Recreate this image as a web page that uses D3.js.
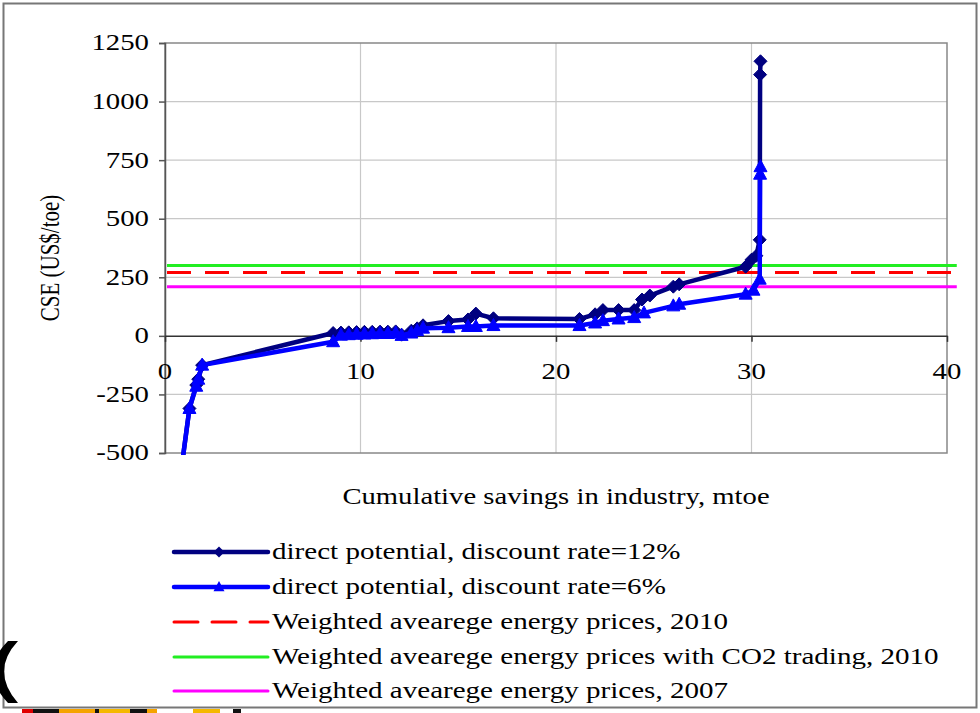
<!DOCTYPE html>
<html>
<head>
<meta charset="utf-8">
<script src="https://cdn.jsdelivr.net/npm/d3@7"></script>
<style>
html,body{margin:0;padding:0;background:#fff;}
svg{display:block;}
text{font-family:'Liberation Serif','Times New Roman',serif;fill:#000;}
</style>
</head>
<body>
<svg id="chart" width="980" height="713"></svg>
<script>
// ---------------- data ----------------
const xTicks = [0, 10, 20, 30, 40];
const yTicks = [-500, -250, 0, 250, 500, 750, 1000, 1250];

// direct potential, discount rate = 12%  [cumulative savings (mtoe), CSE (US$/toe)]
const series12 = [
  [0.85,-560],[1.25,-310],[1.6,-210],[1.7,-185],[1.9,-125],
  [8.6,12],[9.0,14],[9.4,15],[9.8,16],[10.2,17],[10.6,17],[11.0,18],[11.4,18],[11.8,19],
  [12.1,5],[12.6,22],[12.9,32],[13.2,45],[14.5,63],[15.5,70],[15.9,95],[16.8,75],
  [21.2,72],[22.0,92],[22.4,110],[23.2,110],[24.0,110],[24.4,155],[24.8,172],
  [26.0,210],[26.3,220],[29.7,295],[30.0,325],[30.25,342],[30.42,410],[30.44,1115],[30.46,1172]
];
// direct potential, discount rate = 6%
const series6 = [
  [0.85,-560],[1.25,-310],[1.6,-215],[1.7,-185],[1.9,-125],
  [8.6,-25],[9.0,3],[9.4,5],[9.8,7],[10.2,8],[10.6,9],[11.0,10],[11.4,10],[11.8,12],
  [12.1,2],[12.6,12],[12.9,22],[13.2,33],[14.5,35],[15.5,40],[15.9,40],[16.8,44],
  [21.2,44],[22.0,55],[22.4,65],[23.2,72],[24.0,78],[24.5,98],
  [26.0,128],[26.3,135],[29.7,178],[30.1,195],[30.42,242],[30.44,690],[30.46,722]
];

// reference price lines (x extent and level)
const refX = [0, 40.5];
const price2010 = 270;
const price2010CO2 = 300;
const price2007 = 210;

const legendLabels = [
  "direct potential, discount rate=12%",
  "direct potential, discount rate=6%",
  "Weighted avearege energy prices, 2010",
  "Weighted avearege energy prices with CO2 trading, 2010",
  "Weighted avearege energy prices, 2007"
];

// ---------------- drawing ----------------
const svg = d3.select("#chart");
const SX = 1.28; // horizontal stretch of the original slide image

const x = d3.scaleLinear().domain([0, 40]).range([165, 947]);
const y = d3.scaleLinear().domain([-500, 1250]).range([453, 43]);

function stext(parent, px, py, str, size, anchor, rotate) {
  const g = parent.append("g")
    .attr("transform", `translate(${px},${py}) scale(${SX},1)` + (rotate ? ` rotate(${rotate})` : ""));
  return g.append("text")
    .attr("text-anchor", anchor)
    .attr("dominant-baseline", "central")
    .style("font-size", size + "px")
    .text(str);
}

// outer frame
svg.append("rect").attr("x", 3.5).attr("y", 3.5).attr("width", 973).attr("height", 704)
  .attr("fill", "#fff").attr("stroke", "#777").attr("stroke-width", 2);

// plot area
const [x0, x1] = x.range();
const [yb, yt] = y.range();
svg.append("rect").attr("x", x0).attr("y", yt).attr("width", x1 - x0).attr("height", yb - yt)
  .attr("fill", "#fff");

// gridlines
svg.append("g").selectAll("line").data(yTicks.filter(v => v !== 0 && v !== -500 && v !== 1250))
  .join("line")
  .attr("x1", x0).attr("x2", x1).attr("y1", d => y(d)).attr("y2", d => y(d))
  .attr("stroke", "#c8c8c8").attr("stroke-width", 1.2);
svg.append("g").selectAll("line").data(xTicks.filter(v => v > 0 && v < 40))
  .join("line")
  .attr("x1", d => x(d)).attr("x2", d => x(d)).attr("y1", yt).attr("y2", yb)
  .attr("stroke", "#c8c8c8").attr("stroke-width", 1.2);

// plot border
svg.append("rect").attr("x", x0).attr("y", yt).attr("width", x1 - x0).attr("height", yb - yt)
  .attr("fill", "none").attr("stroke", "#888").attr("stroke-width", 1.5);

// y axis
const yAxis = d3.axisLeft(y).tickValues(yTicks).tickSize(6).tickFormat("");
const gy = svg.append("g").attr("transform", `translate(${x0},0)`).call(yAxis);
gy.selectAll("path,line").attr("stroke", "#555").attr("stroke-width", 1.5);
yTicks.forEach(v => stext(svg, 149, y(v), String(v), 22.5, "end"));

// x axis at y=0
const xAxis = d3.axisBottom(x).tickValues(xTicks).tickSize(6).tickSizeOuter(0).tickFormat("");
const gx = svg.append("g").attr("transform", `translate(0,${y(0)})`).call(xAxis);
gx.selectAll("path,line").attr("stroke", "#333").attr("stroke-width", 1.5);
xTicks.forEach(v => stext(svg, x(v), 372, String(v), 22.5, "middle"));

// axis titles
stext(svg, 556, 497, "Cumulative savings in industry, mtoe", 22.4, "middle");
stext(svg, 50, 258, "CSE (US$/toe)", 21, "middle", -90);

// reference lines
const refs = [
  { v: price2010CO2, color: "#22ee22", dash: null },
  { v: price2010, color: "#ff0000", dash: "24,14" },
  { v: price2007, color: "#ff00ff", dash: null }
];
refs.forEach(r => {
  svg.append("line")
    .attr("x1", x(refX[0]) + 2).attr("x2", x(refX[1]))
    .attr("y1", y(r.v)).attr("y2", y(r.v))
    .attr("stroke", r.color).attr("stroke-width", 3)
    .attr("stroke-dasharray", r.dash);
});

// clip for data
svg.append("clipPath").attr("id", "clip").append("rect")
  .attr("x", x0).attr("y", yt - 10).attr("width", x1 - x0).attr("height", yb - yt + 12);

const line = d3.line().x(d => x(d[0])).y(d => y(d[1]));
const diamond = "M0,-6.5L6.5,0L0,6.5L-6.5,0Z";
const triangle = "M0,-7L6.5,5L-6.5,5Z";

const dataG = svg.append("g").attr("clip-path", "url(#clip)");
function drawSeries(data, color, shape) {
  dataG.append("path").datum(data).attr("d", line)
    .attr("fill", "none").attr("stroke", color).attr("stroke-width", 4.5)
    .attr("stroke-linejoin", "round");
  dataG.append("g").selectAll("path").data(data.filter(d => d[1] >= -500)).join("path")
    .attr("transform", d => `translate(${x(d[0])},${y(d[1])})`)
    .attr("d", shape).attr("fill", color).attr("stroke", color).attr("stroke-width", 1);
}
drawSeries(series12, "#000080", diamond);
drawSeries(series6, "#0000ff", triangle);

// legend
const legRows = [552, 587, 622, 657, 691];
const legStyles = [
  { color: "#000080", dash: null, w: 4.5, marker: diamond },
  { color: "#0000ff", dash: null, w: 4.5, marker: triangle },
  { color: "#ff0000", dash: "24,14", w: 3, marker: null },
  { color: "#22ee22", dash: null, w: 3, marker: null },
  { color: "#ff00ff", dash: null, w: 3, marker: null }
];
legendLabels.forEach((lab, i) => {
  const s = legStyles[i], ly = legRows[i];
  svg.append("line").attr("x1", 174).attr("x2", 268).attr("y1", ly).attr("y2", ly)
    .attr("stroke", s.color).attr("stroke-width", s.w).attr("stroke-dasharray", s.dash)
    .attr("stroke-linecap", "round");
  if (s.marker) {
    svg.append("path").attr("transform", `translate(219,${ly}) scale(0.85)`)
      .attr("d", s.marker).attr("fill", s.color);
  }
  stext(svg, 272, ly, lab, 22.7, "start");
});

// slide background remnants (bottom-left logo fragments)
svg.append("path").attr("d", "M18,641 Q-10,671 18,703 L8,703 Q-22,671 8,641Z").attr("fill", "#000");
const strip = [[22, 11, "#e00000"], [33, 26, "#111"], [59, 36, "#f5a300"], [95, 4, "#111"],
  [99, 31, "#f5b800"], [130, 17, "#111"], [147, 10, "#f5a300"], [193, 27, "#f5b800"], [233, 8, "#111"]];
strip.forEach(s => svg.append("rect").attr("x", s[0]).attr("y", 709).attr("width", s[1]).attr("height", 4).attr("fill", s[2]));
</script>
</body>
</html>
